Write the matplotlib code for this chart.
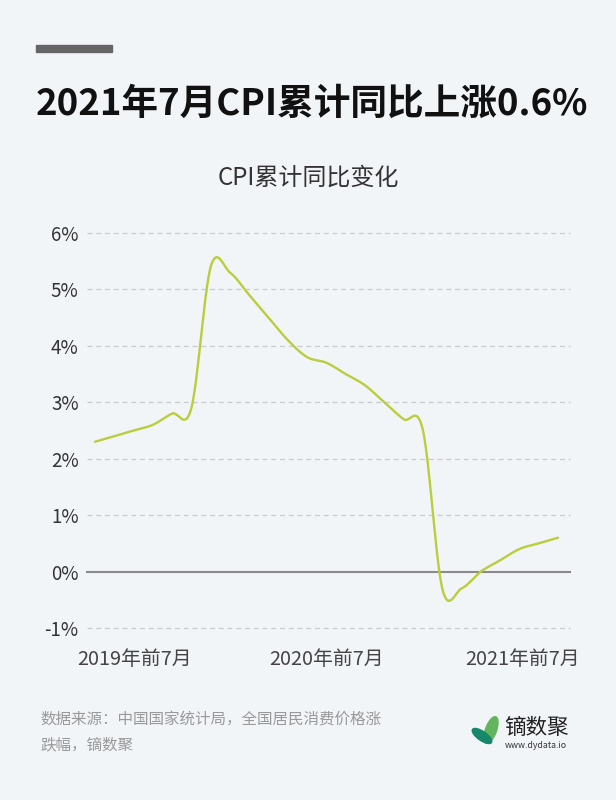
import numpy as np
import matplotlib
matplotlib.use("Agg")
import matplotlib.pyplot as plt
import matplotlib.transforms as mtransforms
from matplotlib.patches import Ellipse, Rectangle

plt.rcParams['font.family'] = ['Noto Sans CJK SC', 'DejaVu Sans']

# data: cumulative CPI yoy (%)
months = ['2019年前7月', '2019年前8月', '2019年前9月', '2019年前10月', '2019年前11月', '2019年前12月',
          '2020年前1月', '2020年前2月', '2020年前3月', '2020年前4月', '2020年前5月', '2020年前6月',
          '2020年前7月', '2020年前8月', '2020年前9月', '2020年前10月', '2020年前11月', '2020年前12月',
          '2021年前1月', '2021年前2月', '2021年前3月', '2021年前4月', '2021年前5月', '2021年前6月',
          '2021年前7月']
cpi = [2.3, 2.4, 2.5, 2.6, 2.8, 2.9,
       5.4, 5.3, 4.9, 4.5, 4.1, 3.8,
       3.7, 3.5, 3.3, 3.0, 2.7, 2.5,
       -0.3, -0.3, 0.0, 0.2, 0.4, 0.5,
       0.6]
shown_ticks = ['2019年前7月', '2020年前7月', '2021年前7月']
yticks = [-1, 0, 1, 2, 3, 4, 5, 6]

bg = '#f2f5f8'
line_col = '#bacd3c'


def catmull_rom(y, steps=24):
    # smooth curve through the points (like a "smooth" line in web charts)
    y = np.asarray(y, dtype=float)
    n = len(y)
    m = np.zeros(n)
    m[1:-1] = (y[2:] - y[:-2]) / 2
    m[0] = y[1] - y[0]
    m[-1] = y[-1] - y[-2]
    xs, ys = [], []
    for i in range(n - 1):
        t = np.linspace(0, 1, steps, endpoint=False)
        h00 = 2*t**3 - 3*t**2 + 1
        h10 = t**3 - 2*t**2 + t
        h01 = -2*t**3 + 3*t**2
        h11 = t**3 - t**2
        xs.append(i + t)
        ys.append(h00*y[i] + h10*m[i] + h01*y[i+1] + h11*m[i+1])
    xs.append([n - 1])
    ys.append([y[-1]])
    return np.concatenate(xs), np.concatenate(ys)


fig = plt.figure(figsize=(6.16, 8), dpi=100, facecolor=bg)

# little bar above the title
fig.patches.append(Rectangle((36/616, 748/800), 76/616, 7/800, transform=fig.transFigure,
                             color='#666666', zorder=1))

fig.text(0.506, 0.869, '2021年7月CPI累计同比上涨0.6%', ha='center', va='center',
         fontsize=26.4, fontweight='bold', color='#111111')
fig.text(0.5, 0.7775, 'CPI累计同比变化', ha='center', va='center', fontsize=17.3, color='#333333')

ax = fig.add_axes([87/616, 172/800, 483/616, 395/800])
ax.set_facecolor(bg)
for s in ax.spines.values():
    s.set_visible(False)

sx, sy = catmull_rom(cpi)
ax.plot(sx, sy, color=line_col, lw=1.7, zorder=3, solid_capstyle='round')

for v in yticks:
    if v == 0:
        ax.axhline(v, color='#8a8a8a', lw=1.5, zorder=2, clip_on=False)
    else:
        ax.axhline(v, color='#c8ccd0', lw=0.9, ls=(0, (4, 3)), zorder=1, clip_on=False)

ax.set_ylim(-1, 6)
ax.set_xlim(-0.41, 24.62)
ax.set_yticks(yticks)
ax.set_yticklabels(['{}%'.format(v) for v in yticks])
ax.tick_params(axis='y', length=0, pad=6, labelsize=13.5, labelcolor='#333333')

ax.set_xticks([months.index(m) for m in shown_ticks])
ax.set_xticklabels(shown_ticks)
ax.tick_params(axis='x', length=0, pad=15, labelsize=14.3, labelcolor='#444444')
xl = ax.get_xticklabels()
xl[0].set_transform(xl[0].get_transform() + mtransforms.ScaledTranslation(0.40, 0, fig.dpi_scale_trans))
xl[2].set_transform(xl[2].get_transform() + mtransforms.ScaledTranslation(-0.36, 0, fig.dpi_scale_trans))

# source note
fig.text(40/616, 1 - 719/800, '数据来源：中国国家统计局，全国居民消费价格涨', ha='left', va='center',
         fontsize=11.2, color='#999999')
fig.text(40/616, 1 - 745/800, '跌幅，镝数聚', ha='left', va='center', fontsize=11.2, color='#999999')

# logo
lg = fig.add_axes([470/616, (800-747)/800, 32/616, 32/800])
lg.set_xlim(0, 32)
lg.set_ylim(0, 32)
lg.axis('off')
lg.add_patch(Ellipse((21, 17), 11, 28, angle=-20, color='#62b55c'))
lg.add_patch(Ellipse((12, 11), 9, 23, angle=55, color='#17876c'))
fig.text(504/616, 1 - 728/800, '镝数聚', ha='left', va='center', fontsize=15.5, color='#222222')
fig.text(505/616, 1 - 746/800, 'www.dydata.io', ha='left', va='center', fontsize=6.3, color='#333333')

fig.savefig('out.png', dpi=100, facecolor=bg)
